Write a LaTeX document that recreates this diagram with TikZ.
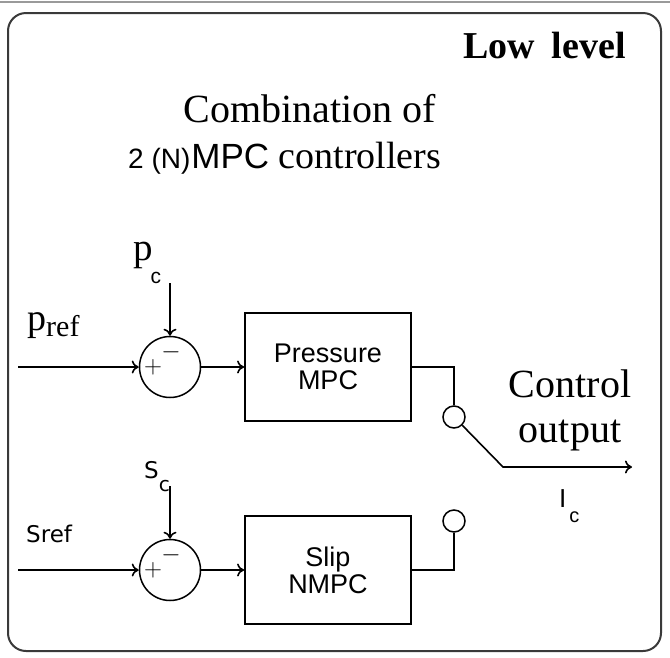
\documentclass[tikz,border=0pt]{standalone}
\usepackage{fontspec}
\setmainfont{Liberation Serif}
\setsansfont{Liberation Sans}
\newfontfamily\dejavusans{DejaVu Sans}
\usetikzlibrary{arrows.meta,calc,positioning}
\definecolor{FrameGray}{HTML}{3A3A3A}
\definecolor{RuleGray}{HTML}{9A9A9A}
\newcommand{\pxfont}[1]{\fontsize{#1}{#1}\selectfont}
\tikzset{
  mpcbox/.style={draw, line width=1.8pt, minimum width=166pt, minimum height=108pt, align=center, inner sep=0pt, font=\sffamily\pxfont{27}},
  sumnode/.style={draw, circle, line width=1.5pt, minimum size=61pt, inner sep=0pt},
  switchnode/.style={draw, circle, line width=1.5pt, minimum size=22pt, inner sep=0pt},
  signnode/.style={inner sep=0pt, font=\pxfont{30}},
  labelnode/.style={anchor=base west, inner sep=0pt},
  sigline/.style={line width=1.6pt},
  sigarrow/.style={-{To[length=7pt,width=13pt]}, line width=1.6pt}
}
\begin{document}
\begin{tikzpicture}[x=1pt, y=-1pt]
  \useasboundingbox (0,0) rectangle (670,657);
  \draw[RuleGray, line width=2pt] (0,1.5) -- (670,1.5);
  \draw[FrameGray, line width=2pt, rounded corners=18pt] (8,13) rectangle (661,651);
  % headings
  \node[anchor=base east, inner sep=0pt, font=\bfseries\pxfont{38}] (lowlevel) at (626,58) {Low\hspace{0.45em}level};
  \node[anchor=base, inner sep=0pt, font=\pxfont{40}] (combi) at (310,122) {Combination of};
  \node[labelnode, font=\pxfont{38}] (ctrls) at (128,168) {{\sffamily\pxfont{28}2 (N)\kern1pt}{\sffamily\pxfont{35}MPC} controllers};
  % the two controller rows
  \foreach \r/\y/\txt in {p/367/{Pressure\\MPC}, s/570/{Slip\\NMPC}} {
    \node[sumnode] (sum\r) at (170,\y) {};
    \node[mpcbox] (box\r) at (328,\y) {\txt};
    \node[signnode] at ($(sum\r)+(-17,0)$) {$+$};
    \node[signnode] at ($(sum\r)+(1,-15)$) {$-$};
    \coordinate (in\r) at (18,\y);
    \coordinate (fb\r) at (170,\y-84);
    \draw[sigarrow] (in\r) -- (sum\r);
    \draw[sigarrow] (fb\r) -- (sum\r);
    \draw[sigarrow] (sum\r) -- (box\r);
  }
  % switch
  \node[switchnode] (swp) at (454,417) {};
  \node[switchnode] (sws) at (454,521) {};
  \coordinate (knee) at (503,467);
  \coordinate (ctrlout) at (632,467);
  \draw[sigline] (boxp.east) -| (swp.north);
  \draw[sigline] (boxs.east) -| (sws.south);
  \draw[sigarrow] (swp.-45) -- (knee) -- (ctrlout);
  % signal labels
  \node[labelnode] (pclabel) at (133,260) {\pxfont{39}p\kern-2pt\raisebox{-23pt}{\sffamily\pxfont{21}c}};
  \node[labelnode] (preflabel) at (27,330) {\pxfont{38}p\raisebox{-6pt}{\pxfont{30}ref}};
  \node[labelnode] (sclabel) at (144,478) {\dejavusans\pxfont{23}S\raisebox{-13pt}{\pxfont{20}c}};
  \node[labelnode] (sreflabel) at (26,542) {\dejavusans\pxfont{23}Sref};
  \node[labelnode] (iclabel) at (559,507) {\sffamily\pxfont{26}I\kern3pt\raisebox{-15pt}{\pxfont{20}c}};
  \node[anchor=base, align=center, inner sep=0pt, font=\fontsize{40}{45}\selectfont] (ctrllabel) at (570,442) {Control\\output};
\end{tikzpicture}
\end{document}
